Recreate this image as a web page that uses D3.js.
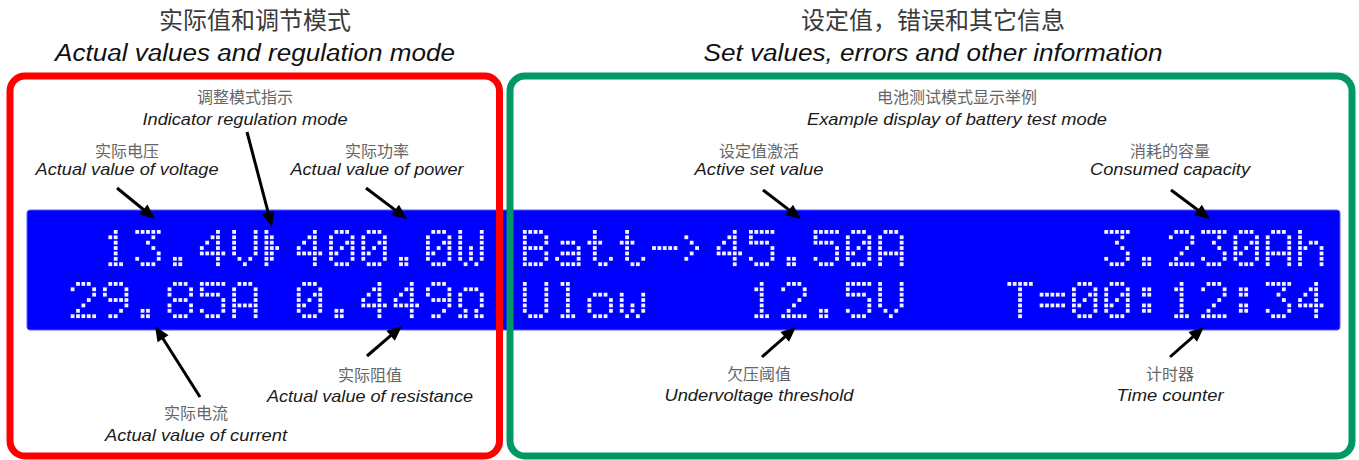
<!DOCTYPE html>
<html><head><meta charset="utf-8">
<script src="https://cdn.jsdelivr.net/npm/d3@7"></script>
<style>html,body{margin:0;padding:0;background:#fff;overflow:hidden}</style>
</head><body><svg id="c" width="1359" height="460"></svg>
<script>
// ---------- data ----------
const sectionTitlesCN = ["实际值和调节模式", "设定值，错误和其它信息"];
const sectionTitlesEN = ["Actual values and regulation mode", "Set values, errors and other information"];
const lcdRows = [
  "  13.4V▸400.0W Batt->45.50A      3.230Ah",
  " 29.85A 0.449Ω Ulow   12.5V   T=00:12:34"
];
const calloutsCN = ["调整模式指示","实际电压","实际功率","实际电流","实际阻值",
                    "电池测试模式显示举例","设定值激活","消耗的容量","欠压阈值","计时器"];
const calloutsEN = ["Indicator regulation mode","Actual value of voltage","Actual value of power",
                    "Actual value of current","Actual value of resistance",
                    "Example display of battery test mode","Active set value","Consumed capacity",
                    "Undervoltage threshold","Time counter"];
// 5x7 dot-matrix character set (HD44780 style)
const glyphs = {
  " ":["00000","00000","00000","00000","00000","00000","00000"],
  "0":["01110","10001","10011","10101","11001","10001","01110"],
  "1":["00100","01100","00100","00100","00100","00100","01110"],
  "2":["01110","10001","00001","00010","00100","01000","11111"],
  "3":["11111","00010","00100","00010","00001","10001","01110"],
  "4":["00010","00110","01010","10010","11111","00010","00010"],
  "5":["11111","10000","11110","00001","00001","10001","01110"],
  "8":["01110","10001","10001","01110","10001","10001","01110"],
  "9":["01110","10001","10001","01111","00001","00010","01100"],
  ".":["00000","00000","00000","00000","00000","01100","01100"],
  ":":["00000","01100","01100","00000","01100","01100","00000"],
  "=":["00000","00000","11111","00000","11111","00000","00000"],
  "-":["00000","00000","00000","11111","00000","00000","00000"],
  ">":["00000","10000","01000","00100","01000","10000","00000"],
  "▸":["10000","11000","11000","11100","11000","11000","10000"],
  "V":["10001","10001","10001","10001","10001","01010","00100"],
  "W":["10001","10001","10001","10101","10101","10101","01010"],
  "A":["01110","10001","10001","10001","11111","10001","10001"],
  "Ω":["00000","01110","10001","10001","10001","01010","11011"],
  "B":["11110","10001","10001","11110","10001","10001","11110"],
  "T":["11111","00100","00100","00100","00100","00100","00100"],
  "U":["10001","10001","10001","10001","10001","10001","01110"],
  "a":["00000","00000","01110","00001","01111","10001","01111"],
  "t":["01000","01000","11100","01000","01000","01001","00110"],
  "h":["10000","10000","10110","11001","10001","10001","10001"],
  "l":["01100","00100","00100","00100","00100","00100","01110"],
  "o":["00000","00000","01110","10001","10001","10001","01110"],
  "w":["00000","00000","10001","10001","10101","10101","01010"]
};

// ---------- layout ----------
const svg = d3.select("#c");
const cols = 40, dotPitch = 32.3 / 6, dotSize = 3.8;
const xCol = d3.scaleLinear().domain([0, cols]).range([38.4, 38.4 + cols * 32.3]);
const yRow = d3.scaleLinear().domain([0, 1]).range([230, 282]);

const cnFont = "'Noto Sans CJK SC', sans-serif";
const enFont = "'Liberation Sans', Arial, sans-serif";

// section titles
const titleLayout = [{x: 255, w: 400}, {x: 933, w: 459}];
svg.selectAll("text.tcn").data(sectionTitlesCN).join("text")
  .attr("class","tcn").attr("x",(d,i)=>titleLayout[i].x).attr("y",29)
  .attr("text-anchor","middle").attr("font-family",cnFont).attr("font-size",24)
  .attr("fill","#3a3a3a").text(d=>d);
svg.selectAll("text.ten").data(sectionTitlesEN).join("text")
  .attr("class","ten").attr("x",(d,i)=>titleLayout[i].x - titleLayout[i].w/2).attr("y",61)
  .attr("font-family",enFont).attr("font-style","italic").attr("font-size",23)
  .attr("fill","#111").attr("textLength",(d,i)=>titleLayout[i].w)
  .attr("lengthAdjust","spacingAndGlyphs").text(d=>d);

// LCD panel
svg.append("rect").attr("x",27).attr("y",210).attr("width",1313).attr("height",120)
  .attr("rx",3).attr("fill","#0000fe").attr("stroke","#5a5aff").attr("stroke-width",1);

const dots = [];
lcdRows.forEach((row, r) => {
  [...row].forEach((ch, c) => {
    const g = glyphs[ch] || glyphs[" "];
    g.forEach((line, i) => {
      [...line].forEach((b, j) => { if (b === "1") dots.push({r, c, i, j}); });
    });
  });
});
svg.append("g").selectAll("rect").data(dots).join("rect")
  .attr("x", d => xCol(d.c) + d.j * dotPitch)
  .attr("y", d => yRow(d.r) + d.i * dotPitch)
  .attr("width", dotSize).attr("height", dotSize)
  .attr("fill", "#f2f2ff");

// section frames
svg.append("rect").attr("x",10).attr("y",76).attr("width",489.5).attr("height",380)
  .attr("rx",15).attr("fill","none").attr("stroke","#ff0000").attr("stroke-width",7);
svg.append("rect").attr("x",510).attr("y",76).attr("width",842).attr("height",380)
  .attr("rx",15).attr("fill","none").attr("stroke","#009966").attr("stroke-width",7);

// callouts
const calloutLayout = [
  {x:245, cy:97,  by:125, w:205, a:[247,132,272,227]},
  {x:127, cy:151, by:175, w:183, a:[117,188,155,219]},
  {x:377, cy:151, by:175, w:173, a:[366,188,407,219]},
  {x:196, cy:413, by:441, w:182, a:[200,397,155,326]},
  {x:370, cy:375, by:402, w:206, a:[367,356,402,326]},
  {x:957, cy:97,  by:125, w:300, a:null},
  {x:759, cy:151, by:175, w:129, a:[763,190,801,219]},
  {x:1170,cy:151, by:175, w:160, a:[1171,190,1210,219]},
  {x:759, cy:374, by:401, w:189, a:[762,357,796,327]},
  {x:1170,cy:374, by:401, w:107, a:[1170,357,1204,327]}
];
svg.selectAll("text.ccn").data(calloutsCN).join("text")
  .attr("class","ccn").attr("x",(d,i)=>calloutLayout[i].x).attr("y",(d,i)=>calloutLayout[i].cy+6)
  .attr("text-anchor","middle").attr("font-family",cnFont).attr("font-size",16)
  .attr("fill","#666").text(d=>d);
svg.selectAll("text.cen").data(calloutsEN).join("text")
  .attr("class","cen").attr("x",(d,i)=>calloutLayout[i].x - calloutLayout[i].w/2)
  .attr("y",(d,i)=>calloutLayout[i].by)
  .attr("font-family",enFont).attr("font-style","italic").attr("font-size",17)
  .attr("fill","#1a1a1a").attr("textLength",(d,i)=>calloutLayout[i].w)
  .attr("lengthAdjust","spacingAndGlyphs").text(d=>d);

// arrows
const arrows = calloutLayout.filter(l => l.a).map(l => l.a);
const headLen = 15, headHalf = 6.5;
const ag = svg.append("g");
arrows.forEach(([x1,y1,x2,y2]) => {
  const dx = x2-x1, dy = y2-y1, L = Math.hypot(dx,dy), ux = dx/L, uy = dy/L;
  const bx = x2 - ux*headLen, by = y2 - uy*headLen;
  ag.append("line").attr("x1",x1).attr("y1",y1).attr("x2",bx+ux*2).attr("y2",by+uy*2)
    .attr("stroke","#000").attr("stroke-width",3);
  ag.append("path").attr("d", d3.line()([[x2,y2],[bx - uy*headHalf, by + ux*headHalf],[bx + uy*headHalf, by - ux*headHalf]]) + "Z")
    .attr("fill","#000");
});
</script></body></html>
